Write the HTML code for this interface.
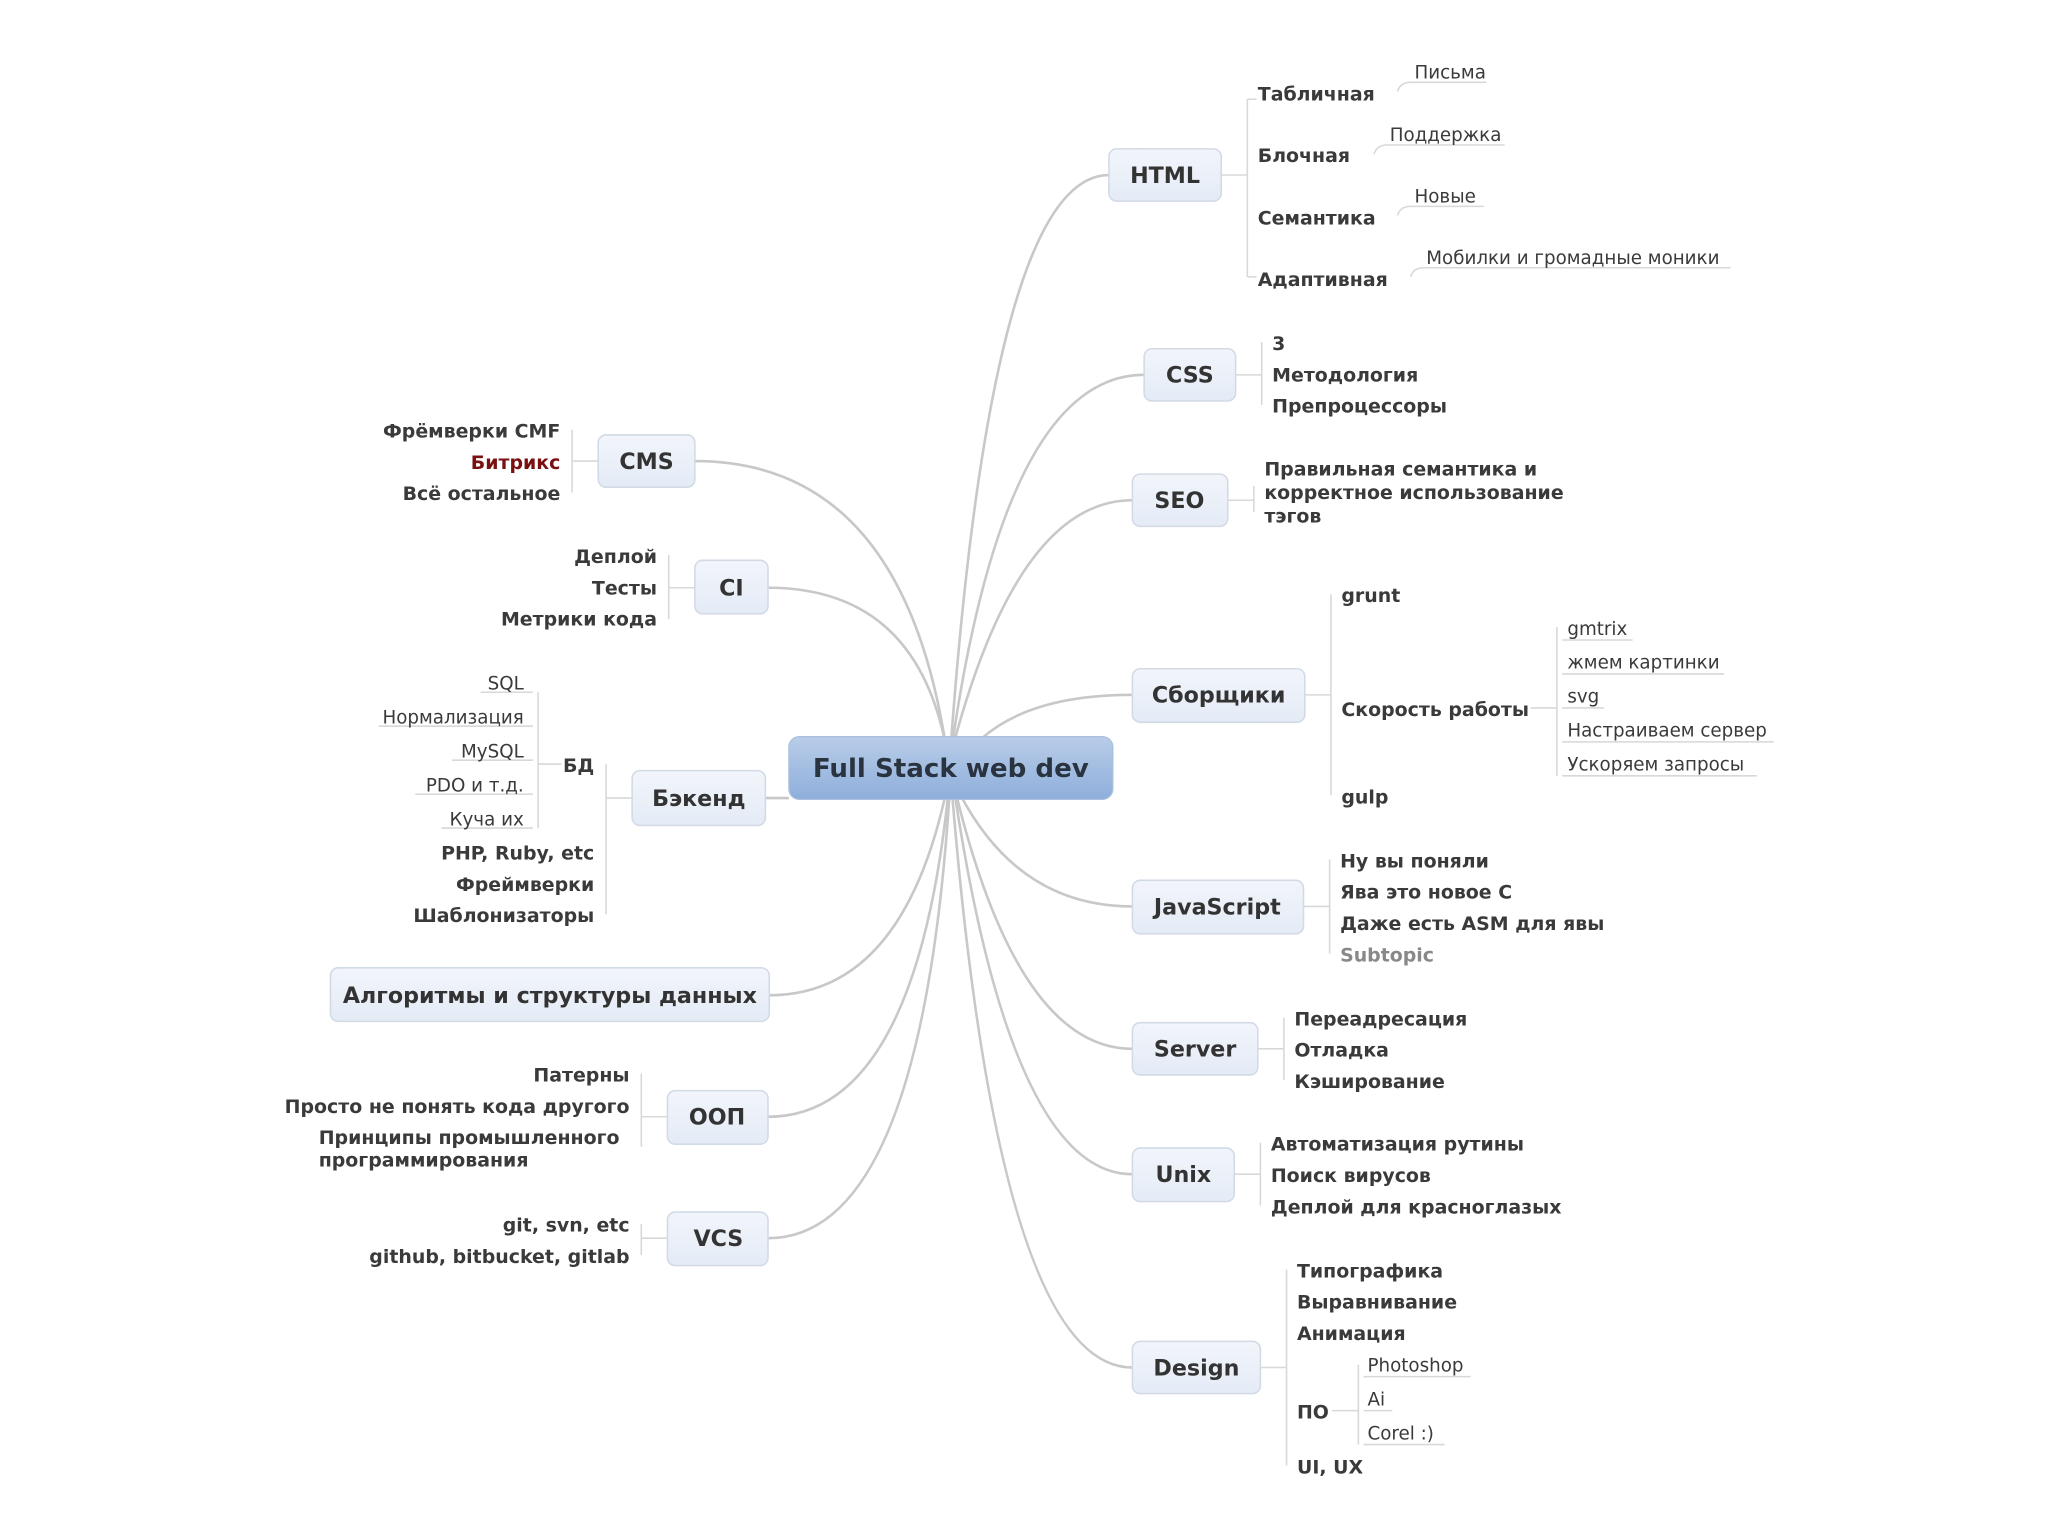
<!DOCTYPE html>
<html><head><meta charset="utf-8"><style>
html,body{margin:0;padding:0;background:#fff}
svg{display:block}
text{font-family:"DejaVu Sans","Liberation Sans",sans-serif;fill:#3a3a3a}
.b{font-weight:bold;font-size:14.5px}
.n{font-size:14px}
.nd{font-weight:bold;font-size:17px;fill:#333}
.c{fill:none;stroke:#c8c8c8;stroke-width:2}
.l{fill:none;stroke:#d8d8d8;stroke-width:1.2}
.box{fill:url(#g);stroke:#d2dae6;stroke-width:1.2}
</style></head><body>
<svg width="2048" height="1536" viewBox="0 0 1568 1176" xmlns="http://www.w3.org/2000/svg">
<defs>
<linearGradient id="g" x1="0" y1="0" x2="0" y2="1"><stop offset="0" stop-color="#f2f5fb"/><stop offset="1" stop-color="#e4ebf6"/></linearGradient>
<linearGradient id="gc" x1="0" y1="0" x2="0" y2="1"><stop offset="0" stop-color="#b9cde8"/><stop offset="1" stop-color="#8eaedb"/></linearGradient>
</defs>
<rect width="1568" height="1176" fill="#fff"/>
<!-- main connectors -->
<g class="c">
<path d="M728 570 Q760 134 849 134"/>
<path d="M729 570 Q770 287 876 287"/>
<path d="M730 570 Q780 383 867 383"/>
<path d="M752 565 Q790 532 867 532"/>
<path d="M735 608 Q780 694 867 694"/>
<path d="M732 608 Q780 803 867 803"/>
<path d="M731 608 Q775 899 867 899"/>
<path d="M729 608 Q765 1047 867 1047"/>
<path d="M724 570 Q690 353 532 353"/>
<path d="M724 570 Q700 450 588 450"/>
<path d="M604 611 L586 611"/>
<path d="M724 608 Q690 762 589 762"/>
<path d="M726 608 Q700 855 588 855"/>
<path d="M727 608 Q705 948 588 948"/>
</g>
<!-- center -->
<rect x="604" y="564" width="248" height="48" rx="8" fill="url(#gc)" stroke="#a9c0e0"/>
<text x="728" y="595" text-anchor="middle" style="font-weight:bold;font-size:20px;fill:#2a3440">Full Stack web dev</text>
<!-- right nodes -->
<rect class="box" x="849" y="114" width="86" height="40" rx="6"/><text class="nd" x="892" y="140" text-anchor="middle">HTML</text>
<rect class="box" x="876" y="267" width="70" height="40" rx="6"/><text class="nd" x="911" y="293" text-anchor="middle">CSS</text>
<rect class="box" x="867" y="363" width="73" height="40" rx="6"/><text class="nd" x="903" y="389" text-anchor="middle">SEO</text>
<rect class="box" x="867" y="512" width="132" height="41" rx="6"/><text class="nd" x="933" y="538" text-anchor="middle">Сборщики</text>
<rect class="box" x="867" y="674" width="131" height="41" rx="6"/><text class="nd" x="932" y="700" text-anchor="middle">JavaScript</text>
<rect class="box" x="867" y="783" width="96" height="40" rx="6"/><text class="nd" x="915" y="809" text-anchor="middle">Server</text>
<rect class="box" x="867" y="879" width="78" height="41" rx="6"/><text class="nd" x="906" y="905" text-anchor="middle">Unix</text>
<rect class="box" x="867" y="1027" width="98" height="40" rx="6"/><text class="nd" x="916" y="1053" text-anchor="middle">Design</text>
<!-- left nodes -->
<rect class="box" x="458" y="333" width="74" height="40" rx="6"/><text class="nd" x="495" y="359" text-anchor="middle">CMS</text>
<rect class="box" x="532" y="429" width="56" height="41" rx="6"/><text class="nd" x="560" y="456" text-anchor="middle">CI</text>
<rect class="box" x="484" y="590" width="102" height="42" rx="6"/><text class="nd" x="535" y="617" text-anchor="middle">Бэкенд</text>
<rect class="box" x="253" y="741" width="336" height="41" rx="6"/><text class="nd" x="421" y="768" text-anchor="middle">Алгоритмы и структуры данных</text>
<rect class="box" x="511" y="835" width="77" height="41" rx="6"/><text class="nd" x="549" y="861" text-anchor="middle">ООП</text>
<rect class="box" x="511" y="928" width="77" height="41" rx="6"/><text class="nd" x="550" y="954" text-anchor="middle">VCS</text>

<g class="l">
<!-- HTML -->
<path d="M935 134 H955 M955 76 V212 M955 76 H962 M955 212 H962"/>
<path d="M1070 70 Q1072 63 1080 63 H1138 M1052 118 Q1054 111 1062 111 H1152 M1070 165 Q1072 158 1080 158 H1136 M1080 212 Q1082 205 1090 205 H1325"/>
<!-- CSS -->
<path d="M946 287 H966 M966 262 V310"/>
<!-- SEO -->
<path d="M940 383 H960 M960 372 V392"/>
<!-- Сборщики -->
<path d="M999 532 H1019 M1019 455 V609 M1172 542 H1192 M1192 480 V594 M1196 490 H1250 M1196 516 H1320 M1196 542 H1228 M1196 568 H1358 M1196 594 H1345"/>
<!-- JS -->
<path d="M998 694 H1018 M1018 658 V730"/>
<path d="M963 803 H983 M983 779 V827"/>
<path d="M945 899 H965 M965 875 V923"/>
<path d="M965 1047 H985 M985 972 V1122 M1020 1080 H1040 M1040 1045 V1106 M1044 1054 H1126 M1044 1080 H1066 M1044 1106 H1106"/>
<!-- left -->
<path d="M458 353 H438 M438 329 V377"/>
<path d="M532 450 H512 M512 425 V474"/>
<path d="M484 611 H464 M464 585 V700 M430 585 H412 M412 530 V634 M290 556 H408 M346 582 H408 M318 608 H408 M338 634 H408 M368 530 H408"/>
<path d="M511 855 H491 M491 822 V878"/>
<path d="M511 948 H491 M491 937 V961"/>
</g>

<!-- HTML children -->
<text class="b" x="963" y="77">Табличная</text>
<text class="b" x="963" y="124">Блочная</text>
<text class="b" x="963" y="172">Семантика</text>
<text class="b" x="963" y="219">Адаптивная</text>
<text class="n" x="1083" y="60">Письма</text>
<text class="n" x="1064" y="108">Поддержка</text>
<text class="n" x="1083" y="155">Новые</text>
<text class="n" x="1092" y="202">Мобилки и громадные моники</text>
<text class="b" x="974" y="268">3</text>
<text class="b" x="974" y="292">Методология</text>
<text class="b" x="974" y="316">Препроцессоры</text>
<text class="b" x="968" y="364">Правильная семантика и</text>
<text class="b" x="968" y="382">корректное использование</text>
<text class="b" x="968" y="400">тэгов</text>
<text class="b" x="1027" y="461">grunt</text>
<text class="b" x="1027" y="548">Скорость работы</text>
<text class="b" x="1027" y="615">gulp</text>
<text class="n" x="1200" y="486">gmtrix</text>
<text class="n" x="1200" y="512">жмем картинки</text>
<text class="n" x="1200" y="538">svg</text>
<text class="n" x="1200" y="564">Настраиваем сервер</text>
<text class="n" x="1200" y="590">Ускоряем запросы</text>
<text class="b" x="1026" y="664">Ну вы поняли</text>
<text class="b" x="1026" y="688">Ява это новое С</text>
<text class="b" x="1026" y="712">Даже есть ASM для явы</text>
<text class="b" x="1026" y="736" style="fill:#888">Subtopic</text>
<text class="b" x="991" y="785">Переадресация</text>
<text class="b" x="991" y="809">Отладка</text>
<text class="b" x="991" y="833">Кэширование</text>
<text class="b" x="973" y="881">Автоматизация рутины</text>
<text class="b" x="973" y="905">Поиск вирусов</text>
<text class="b" x="973" y="929">Деплой для красноглазых</text>
<text class="b" x="993" y="978">Типографика</text>
<text class="b" x="993" y="1002">Выравнивание</text>
<text class="b" x="993" y="1026">Анимация</text>
<text class="b" x="993" y="1086">ПО</text>
<text class="b" x="993" y="1128">UI, UX</text>
<text class="n" x="1047" y="1050">Photoshop</text>
<text class="n" x="1047" y="1076">Ai</text>
<text class="n" x="1047" y="1102">Corel :)</text>
<!-- left children -->
<g text-anchor="end">
<text class="b" x="429" y="335">Фрёмверки CMF</text>
<text class="b" x="429" y="359" style="fill:#7a1010">Битрикс</text>
<text class="b" x="429" y="383">Всё остальное</text>
<text class="b" x="503" y="431">Деплой</text>
<text class="b" x="503" y="455">Тесты</text>
<text class="b" x="503" y="479">Метрики кода</text>
<text class="b" x="455" y="591">БД</text>
<text class="b" x="455" y="658">PHP, Ruby, etc</text>
<text class="b" x="455" y="682">Фреймверки</text>
<text class="b" x="455" y="706">Шаблонизаторы</text>
<text class="n" x="401" y="528">SQL</text>
<text class="n" x="401" y="554">Нормализация</text>
<text class="n" x="401" y="580">MySQL</text>
<text class="n" x="401" y="606">PDO и т.д.</text>
<text class="n" x="401" y="632">Куча их</text>
<text class="b" x="482" y="828">Патерны</text>
<text class="b" x="482" y="852">Просто не понять кода другого</text>
<text class="b" x="482" y="943">git, svn, etc</text>
<text class="b" x="482" y="967">github, bitbucket, gitlab</text>
</g>
<text class="b" x="244" y="876">Принципы промышленного</text>
<text class="b" x="244" y="893">программирования</text>
</svg>
</body></html>
